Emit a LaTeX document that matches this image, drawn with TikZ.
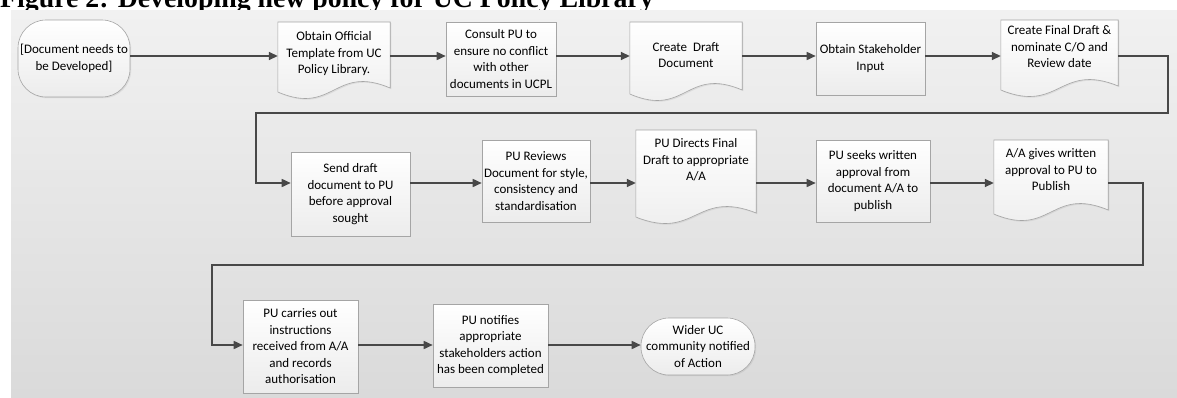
\documentclass[tikz,border=0pt]{standalone}
\usepackage{fontspec}
\setmainfont{Liberation Serif}
\newfontfamily\nodefont{Carlito}
\usetikzlibrary{arrows.meta,calc,shadows}
\pgfdeclarelayer{back}
\pgfdeclarelayer{mid}
\pgfsetlayers{back,mid,main}
\definecolor{conncol}{RGB}{72,72,72}
\definecolor{bordercol}{RGB}{165,165,165}
\definecolor{boxbot}{RGB}{236,236,236}
\definecolor{paneltop}{RGB}{241,241,241}
\definecolor{panelbot}{RGB}{218,218,218}
\tikzset{
  boxfont/.style={font=\nodefont\fontsize{13}{16.5}\selectfont},
  box/.style={boxfont, draw=bordercol, line width=0.6pt, top color=white, bottom color=boxbot,
    align=center, inner sep=1pt,
    drop shadow={opacity=0.15, shadow xshift=1.2pt, shadow yshift=-1.2pt}},
  term/.style={box, rounded corners=28pt},
  doctext/.style={boxfont, align=center, inner sep=0pt},
  docfill/.style={draw=bordercol, line width=0.6pt, top color=white, bottom color=boxbot,
    drop shadow={opacity=0.15, shadow xshift=1.2pt, shadow yshift=-1.2pt}},
  conn/.style={draw=conncol, line width=1.6pt, -{Triangle[length=9pt,width=8pt]}},
}
% #1 node name, #2 top offset above centre, #3 bottom offset of the sides below centre
\newcommand\docshape[3]{%
  \path[docfill] ($(#1.west)+(0,-#2)$) -- ($(#1.east)+(0,-#2)$) -- ($(#1.east)+(0,#3-2)$)
    .. controls ($(#1.center)+(0,#3-26)$) and ($(#1.center)+(0,#3+26)$) .. ($(#1.west)+(0,#3+2)$) -- cycle;}
\begin{document}
\begin{tikzpicture}[x=1pt,y=-1pt]
\useasboundingbox (0,0) rectangle (1177,397);
\begin{pgfonlayer}{back}
  \node[anchor=base west, inner sep=0pt, font=\bfseries\fontsize{27.8}{30}\selectfont] (title) at (0,7)
    {Figure 2: Developing new policy for UC Policy Library};
  \fill[top color=paneltop, bottom color=panelbot] (11,10) rectangle (1177,397);
\end{pgfonlayer}

% Row 1
\node[term, minimum width=112pt, minimum height=77pt] (start) at (74,58.5) {[Document needs to\\be Developed]};
\node[doctext, minimum width=112pt] (doc1) at (334,54) {Obtain Official\\Template from UC\\Policy Library.};
\node[box, minimum width=110pt, minimum height=74pt] (consult) at (501,59) {Consult PU to\\ensure no conflict\\with other\\documents in UCPL};
\node[doctext, minimum width=112pt] (doc3) at (686,55) {Create~ Draft\\Document};
\node[box, minimum width=109pt, minimum height=73pt] (stake) at (870.5,58.5) {Obtain Stakeholder\\Input};
\node[doctext, minimum width=117pt] (doc5) at (1059.5,47) {Create Final Draft \&\\nominate C/O and\\Review date};

% Row 2
\node[box, minimum width=119pt, minimum height=84pt] (send) at (350.5,194) {Send draft\\document to PU\\before approval\\sought};
\node[box, minimum width=108pt, minimum height=82pt] (review) at (536,181) {PU Reviews\\Document for style,\\consistency and\\standardisation};
\node[doctext, minimum width=120pt] (doc6) at (696,160) {PU Directs Final\\Draft to appropriate\\A/A};
\node[box, minimum width=114pt, minimum height=82pt] (seeks) at (873,181) {PU seeks written\\approval from\\document A/A to\\publish};
\node[doctext, minimum width=114pt] (doc7) at (1051,170) {A/A gives written\\approval to PU to\\Publish};

% Row 3
\node[box, minimum width=115pt, minimum height=93pt] (carries) at (300.5,346.5) {PU carries out\\instructions\\received from A/A\\and records\\authorisation};
\node[box, minimum width=115pt, minimum height=83pt] (notifies) at (490.5,345.5) {PU notifies\\appropriate\\stakeholders action\\has been completed};
\node[term, minimum width=114pt, minimum height=57pt] (wider) at (698,346.5) {Wider UC\\community notified\\of Action};

\begin{pgfonlayer}{mid}
  \docshape{doc1}{32}{36}
  \docshape{doc3}{33}{37}
  \docshape{doc5}{27}{41}
  \docshape{doc6}{30}{55}
  \docshape{doc7}{30}{42}
\end{pgfonlayer}

% connectors
\coordinate (r1) at (0,56);
\coordinate (r2) at (0,183);
\coordinate (r3) at (0,345);
\coordinate (e1a) at (1168,113);
\coordinate (e1b) at (256,113);
\coordinate (e2a) at (1143,265);
\coordinate (e2b) at (212,265);

\draw[conn] (start.east |- r1) -- (doc1.west |- r1);
\draw[conn] (doc1.east |- r1) -- (consult.west |- r1);
\draw[conn] (consult.east |- r1) -- (doc3.west |- r1);
\draw[conn] (doc3.east |- r1) -- (stake.west |- r1);
\draw[conn] (stake.east |- r1) -- (doc5.west |- r1);
\draw[conn] (doc5.east |- r1) -| (e1a) -- (e1b) |- (send.west |- r2);

\draw[conn] (send.east |- r2) -- (review.west |- r2);
\draw[conn] (review.east |- r2) -- (doc6.west |- r2);
\draw[conn] (doc6.east |- r2) -- (seeks.west |- r2);
\draw[conn] (seeks.east |- r2) -- (doc7.west |- r2);
\draw[conn] (doc7.east |- r2) -| (e2a) -- (e2b) |- (carries.west |- r3);

\draw[conn] (carries.east |- r3) -- (notifies.west |- r3);
\draw[conn] (notifies.east |- r3) -- (wider.west |- r3);
\end{tikzpicture}
\end{document}
